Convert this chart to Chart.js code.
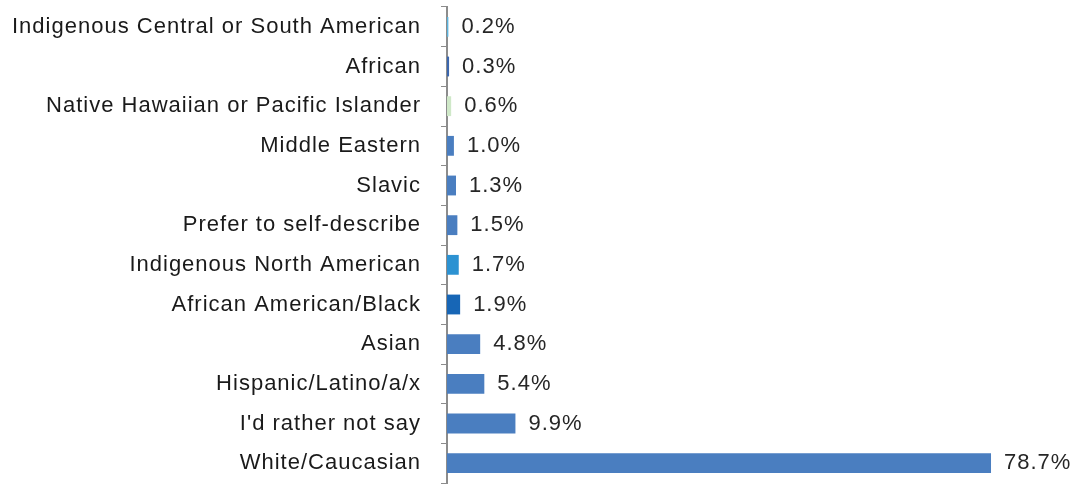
<!DOCTYPE html>
<html>
<head>
<meta charset="utf-8">
<script src="https://cdn.jsdelivr.net/npm/chart.js@4/dist/chart.umd.min.js"></script>
<style>
  html, body { margin: 0; padding: 0; background: #fff; overflow: hidden; }
  #wrap { width: 1076px; height: 484px; position: relative; }
</style>
</head>
<body>
<div id="wrap"><canvas id="c" width="1076" height="484"></canvas></div>
<script>
const categories = [
  "Indigenous Central or South American",
  "African",
  "Native Hawaiian or Pacific Islander",
  "Middle Eastern",
  "Slavic",
  "Prefer to self-describe",
  "Indigenous North American",
  "African American/Black",
  "Asian",
  "Hispanic/Latino/a/x",
  "I'd rather not say",
  "White/Caucasian"
];
const values = [0.2, 0.3, 0.6, 1.0, 1.3, 1.5, 1.7, 1.9, 4.8, 5.4, 9.9, 78.7];
const barColors = [
  "#5cb4de", "#3b66ad", "#cfe8c8", "#4a7ec0", "#4a7ec0", "#4a7ec0",
  "#2c92d2", "#1766b6", "#4a7ec0", "#4a7ec0", "#4a7ec0", "#4a7ec0"
];

const LS = '1px';
const FONT_FAMILY = '"Liberation Sans", Arial, sans-serif';

const spacing = {
  id: 'spacing',
  beforeUpdate(chart) { chart.ctx.letterSpacing = LS; },
  beforeLayout(chart) { chart.ctx.letterSpacing = LS; },
  beforeDraw(chart) { chart.ctx.letterSpacing = LS; }
};

const valueLabels = {
  id: 'valueLabels',
  afterDatasetsDraw(chart) {
    const ctx = chart.ctx;
    const meta = chart.getDatasetMeta(0);
    ctx.save();
    ctx.letterSpacing = LS;
    ctx.font = '22px ' + FONT_FAMILY;
    ctx.fillStyle = '#262626';
    ctx.textAlign = 'left';
    ctx.textBaseline = 'middle';
    meta.data.forEach((bar, i) => {
      const v = chart.data.datasets[0].data[i];
      ctx.fillText(v.toFixed(1) + '%', bar.x + 13, bar.y);
    });
    ctx.restore();
  }
};

new Chart(document.getElementById('c'), {
  type: 'bar',
  data: {
    labels: categories,
    datasets: [{
      data: values,
      backgroundColor: barColors,
      borderWidth: 0,
      categoryPercentage: 1.0,
      barPercentage: 0.5
    }]
  },
  options: {
    indexAxis: 'y',
    responsive: false,
    animation: false,
    devicePixelRatio: 1,
    layout: { padding: { top: 7, bottom: 1, right: 76, left: 0 } },
    plugins: {
      legend: { display: false },
      tooltip: { enabled: false }
    },
    scales: {
      x: {
        display: false,
        min: 0,
        max: 80
      },
      y: {
        afterFit(scale) {
          scale.width = 447;
          scale.paddingTop = 0;
          scale.paddingBottom = 0;
        },
        grid: {
          offset: true,
          drawOnChartArea: false,
          drawTicks: true,
          tickLength: 6,
          color: '#8c8c8c',
          lineWidth: 1
        },
        border: { display: true, color: '#8c8c8c', width: 2 },
        ticks: {
          color: '#1a1a1a',
          padding: 20,
          font: { family: FONT_FAMILY, size: 22 }
        }
      }
    }
  },
  plugins: [spacing, valueLabels]
});
</script>
</body>
</html>
